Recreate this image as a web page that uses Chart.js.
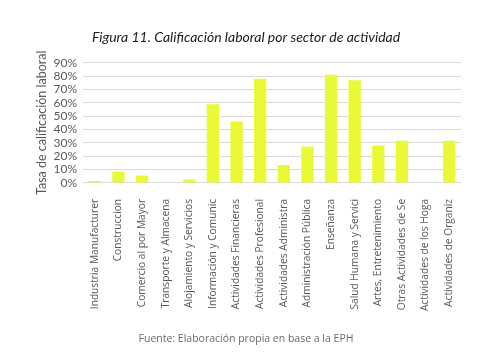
<!DOCTYPE html>
<html>
<head>
<meta charset="utf-8">
<script src="https://cdn.jsdelivr.net/npm/chart.js@4"></script>
<style>
  html, body { margin: 0; padding: 0; background: #ffffff; }
  #wrap { width: 492px; height: 359px; }
</style>
</head>
<body>
<div id="wrap"><canvas id="chartCanvas" width="492" height="359"></canvas></div>
<script>
const sectores = [
    "Industria Manufacturer",
    "Construccion",
    "Comercio al por Mayor",
    "Transporte y Almacena",
    "Alojamiento y Servicios",
    "Información y Comunic",
    "Actividades Financieras",
    "Actividades Profesional",
    "Actividades Administra",
    "Administración Pública",
    "Enseñanza",
    "Salud Humana y Servici",
    "Artes, Entretenimiento",
    "Otras Actividades de Se",
    "Actividades de los Hoga",
    "Actividades de Organiz"
];

const tasaCalificacion = [1.5, 8.5, 5.5, 0, 2.5, 59, 46, 78, 13.5, 27, 81, 77, 28, 31.5, 0, 31.5];

const ticksY = [0, 10, 20, 30, 40, 50, 60, 70, 80, 90];

const textoTitulo = "Figura 11. Calificación laboral por sector de actividad";
const textoFuente = "Fuente: Elaboración propia en base a la EPH";
const tituloEjeY = "Tasa de calificación laboral";

const ctx =
    document
    .getElementById("chartCanvas")
    .getContext("2d");

new Chart(ctx, {

    type: "bar",

    data: {
        labels: sectores,
        datasets: [{
            label: "Tasa de calificación laboral",
            data: tasaCalificacion,
            backgroundColor: "#e9f936",
            barPercentage: 0.52,
            categoryPercentage: 1
        }]
    },

    options: {
        responsive: false,
        animation: false,
        layout: {
            padding: 0
        },
        plugins: {
            legend: { display: false },
            tooltip: { enabled: false },
            title: {
                display: true,
                text: textoTitulo,
                color: "#1a1a1a",
                font: { family: "Lato", size: 14, style: "italic", weight: "normal" },
                padding: { top: 29, bottom: 17 }
            },
            subtitle: {
                display: true,
                position: "bottom",
                text: textoFuente,
                color: "#6b6b6b",
                font: { family: "Open Sans", size: 10.5, weight: "normal" },
                padding: { top: 18, bottom: 14 }
            }
        },
        scales: {
            x: {
                grid: { display: false },
                border: { display: false },
                ticks: {
                    color: "#595959",
                    font: { family: "Open Sans", size: 10.2 },
                    minRotation: 90,
                    maxRotation: 90,
                    autoSkip: false,
                    padding: 8
                },
                afterFit: scale => { scale.height = 131.5; }
            },
            y: {
                min: 0,
                max: 90,
                afterBuildTicks: scale => {
                    scale.ticks = ticksY.map(v => ({ value: v }));
                },
                grid: { color: "#d9d9d9", drawTicks: false, lineWidth: 1 },
                border: { display: false },
                ticks: {
                    color: "#595959",
                    font: { family: "Lato", size: 12 },
                    padding: 6,
                    autoSkip: false,
                    stepSize: 10,
                    callback: v => v + "%"
                },
                title: {
                    display: true,
                    text: tituloEjeY,
                    color: "#595959",
                    font: { family: "Lato", size: 12.5 },
                    padding: { top: 34, bottom: 0 }
                },
                afterFit: scale => { scale.width = 83; }
            },
            yDerecha: {
                position: "right",
                grid: { display: false },
                border: { display: false },
                ticks: { display: false },
                afterFit: scale => { scale.width = 31; }
            }
        }
    }

});
</script>
</body>
</html>
